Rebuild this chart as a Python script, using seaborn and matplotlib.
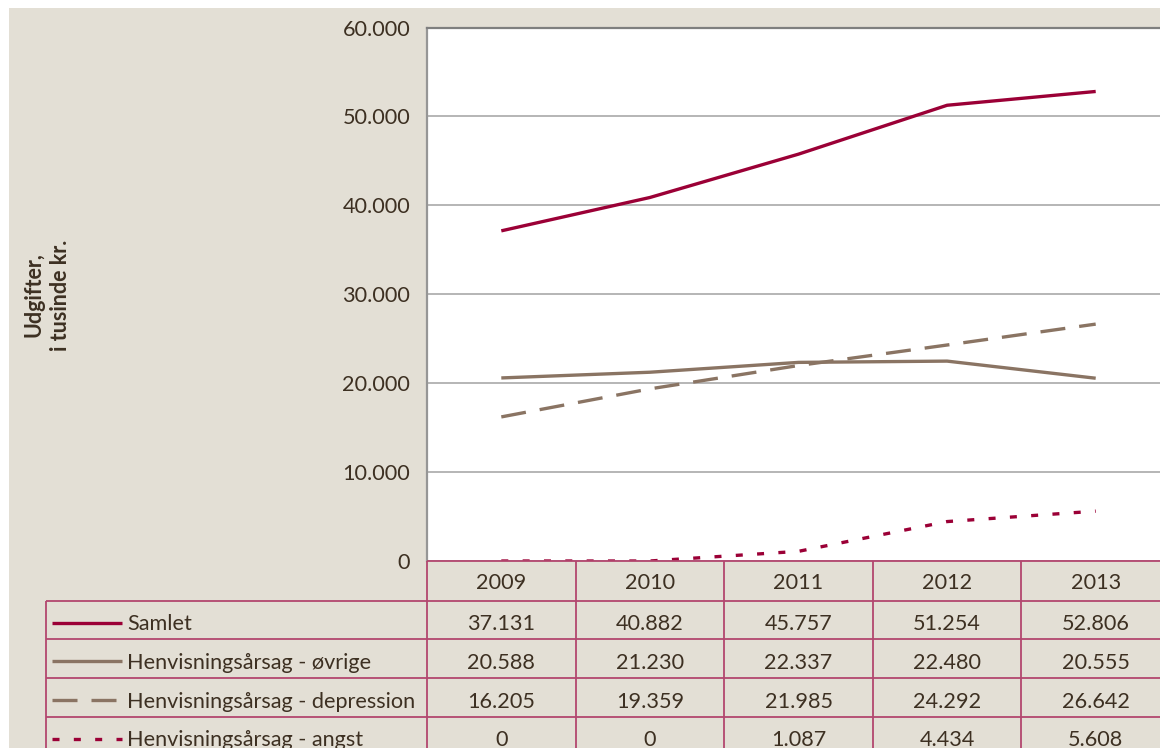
import matplotlib
matplotlib.use("Agg")
import matplotlib.pyplot as plt
import matplotlib.transforms as mtransforms
from matplotlib.lines import Line2D
from matplotlib.patches import Rectangle
import seaborn as sns
import pandas as pd

# ---- data ----
years = ["2009", "2010", "2011", "2012", "2013"]
series_names = ["Samlet", "Henvisningsårsag - øvrige",
                "Henvisningsårsag - depression", "Henvisningsårsag - angst"]
samlet = [37131, 40882, 45757, 51254, 52806]
ovrige = [20588, 21230, 22337, 22480, 20555]
depression = [16205, 19359, 21985, 24292, 26642]
angst = [0, 0, 1087, 4434, 5608]
y_ticks = [0, 10000, 20000, 30000, 40000, 50000, 60000]
y_label = "Udgifter,\ni tusinde kr."

values = [samlet, ovrige, depression, angst]

# ---- style ----
sns.set_style("white")
plt.rcParams["font.family"] = ["Lato", "DejaVu Sans"]
plt.rcParams["lines.dash_capstyle"] = "butt"
plt.rcParams["lines.solid_capstyle"] = "butt"

W, H = 1160, 748
BEIGE = "#E3DFD5"
TXT = "#3D3022"
RED = "#9B0036"
BROWN = "#8A7463"
TLINE = "#B3476F"
FS = 15.6
LW = 2.4

colors = {series_names[0]: RED, series_names[1]: BROWN,
          series_names[2]: BROWN, series_names[3]: RED}
dashes = {series_names[0]: "", series_names[1]: "",
          series_names[2]: (7.5, 4.2), series_names[3]: (2.1, 4.3)}

df = pd.DataFrame([
    {"year": y, "value": v, "series": s}
    for s, vals in zip(series_names, values)
    for y, v in zip(years, vals)
])

fig = plt.figure(figsize=(W / 100, H / 100), dpi=100)
fig.patch.set_facecolor("white")
fig.patches.append(Rectangle((9 / W, 0), 1, 1 - 8 / H, transform=fig.transFigure,
                             facecolor=BEIGE, edgecolor="none", zorder=-10))


def fx(x):
    return x / W


def fy(y):
    return 1 - y / H


ax_left, ax_top, ax_right, ax_bottom = 427, 27.5, 1170, 561
ax = fig.add_axes([fx(ax_left), fy(ax_bottom), fx(ax_right - ax_left),
                   (ax_bottom - ax_top) / H])
ax.set_facecolor("white")

sns.lineplot(data=df, x="year", y="value", hue="series", style="series",
             palette=colors, dashes=dashes, linewidth=LW, legend=False,
             ax=ax, sort=False, zorder=3)

ax.set_xlim(-0.5, len(years) - 0.5)
ax.set_ylim(y_ticks[0], y_ticks[-1])
ax.set_yticks(y_ticks)
ax.set_yticklabels([f"{t:,}".replace(",", ".") for t in y_ticks],
                   fontsize=FS, color=TXT)
ax.set_xticks([])
ax.set_xlabel("")
ax.set_ylabel("")
ax.tick_params(axis="y", length=0, pad=12)
ax.yaxis.grid(True, color="#B0B0B0", linewidth=1.3)
ax.set_axisbelow(True)
for side in ["right", "bottom"]:
    ax.spines[side].set_visible(False)
ax.spines["left"].set_color("#969696")
ax.spines["left"].set_linewidth(1.6)
ax.spines["top"].set_color("#7F7F7F")
ax.spines["top"].set_linewidth(1.6)

# ---- data table ----
bt = mtransforms.blended_transform_factory(ax.transData, fig.transFigure)
row_lines = [561, 600.7, 639.3, 678, 716.7, 756]
tbl_left = 46
n = len(years)

def hline(x0px, y):
    fig.add_artist(Line2D([fx(x0px), fx(1200)], [fy(y), fy(y)],
                          transform=fig.transFigure, color=TLINE, lw=1.3,
                          zorder=5))

hline(ax_left, row_lines[0])
for y in row_lines[1:-1]:
    hline(tbl_left, y)
# vertical lines
fig.add_artist(Line2D([fx(tbl_left), fx(tbl_left)], [fy(row_lines[1]), fy(760)],
                      transform=fig.transFigure, color=TLINE, lw=1.3, zorder=5))
for i in range(n + 1):
    fig.add_artist(Line2D([i - 0.5, i - 0.5], [fy(row_lines[0]), fy(760)],
                          transform=bt, color=TLINE, lw=1.3, zorder=5))

for i, yr in enumerate(years):
    fig.text(i, fy(row_lines[0] + 28), yr, transform=bt, ha="center",
             va="baseline", fontsize=FS, color=TXT)

for r, (name, vals) in enumerate(zip(series_names, values)):
    base = row_lines[r + 1] + 29.5
    d = dashes[name]
    ln = Line2D([fx(52), fx(122)], [fy(base - 7.5), fy(base - 7.5)],
                transform=fig.transFigure, color=colors[name], lw=LW, zorder=6)
    if d:
        ln.set_dashes(d)
    fig.add_artist(ln)
    fig.text(fx(127), fy(base), name, ha="left", va="baseline",
             fontsize=FS, color=TXT)
    for i, v in enumerate(vals):
        fig.text(i, fy(base), f"{v:,}".replace(",", "."), transform=bt,
                 ha="center", va="baseline", fontsize=FS, color=TXT)

fig.text(fx(47), fy(295), y_label, rotation=90, ha="center", va="center",
         multialignment="center", fontsize=15.5, fontweight="bold", color=TXT,
         linespacing=1.3)

fig.savefig("out.png", dpi=100, facecolor=fig.get_facecolor())
